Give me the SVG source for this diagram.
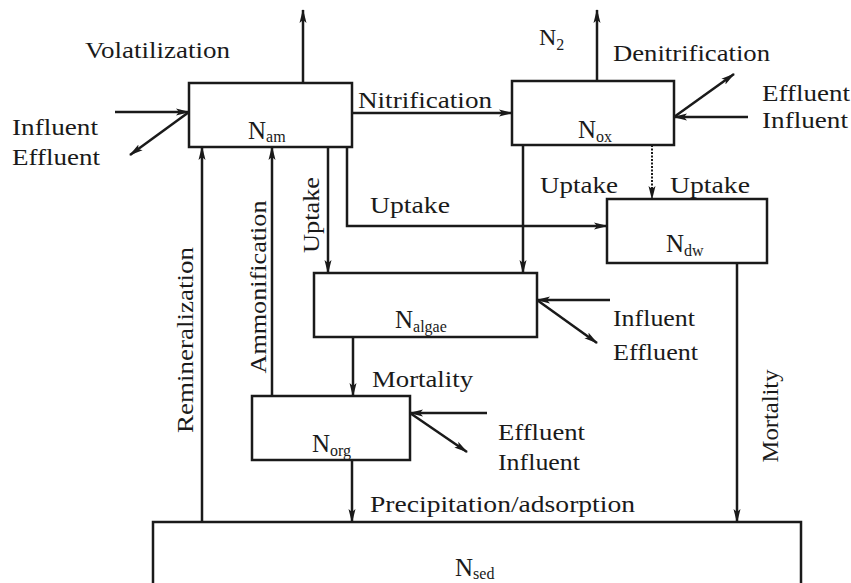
<svg xmlns="http://www.w3.org/2000/svg" width="851" height="583" viewBox="0 0 851 583">
<defs>
<marker id="ah" markerUnits="userSpaceOnUse" markerWidth="14" markerHeight="10" viewBox="0 0 14 10" refX="13" refY="5" orient="auto">
<path d="M0,1.5 L14,5 L0,8.5 L3,5 Z" fill="#1a1a1a"/>
</marker>
</defs>
<style>
.box{fill:none;stroke:#1a1a1a;stroke-width:2.5}
.ar{fill:none;stroke:#1a1a1a;stroke-width:2.5;marker-end:url(#ah)}
.dot{fill:none;stroke:#1a1a1a;stroke-width:2;stroke-dasharray:2 1.5;marker-end:url(#ah)}
.lb{font-size:24px}
.nm{font-size:25px}
.sb{font-size:16px}
</style>
<rect width="851" height="583" fill="#ffffff"/>
<g font-family="'Liberation Serif', 'Times New Roman', serif" fill="#1a1a1a">
<g id="N_am">
<rect class="box" x="189" y="83" width="163" height="64"/>
<text class="nm" x="248" y="139">N<tspan class="sb" dy="3">am</tspan></text>
</g>
<g id="N_ox">
<rect class="box" x="512" y="81" width="162" height="64"/>
<text class="nm" x="578" y="138">N<tspan class="sb" dy="4">ox</tspan></text>
</g>
<g id="N_dw">
<rect class="box" x="607" y="199" width="160" height="64"/>
<text class="nm" x="666" y="252">N<tspan class="sb" dy="4">dw</tspan></text>
</g>
<g id="N_algae">
<rect class="box" x="314" y="273" width="223" height="64"/>
<text class="nm" x="395" y="328">N<tspan class="sb" dy="4">algae</tspan></text>
</g>
<g id="N_org">
<rect class="box" x="252" y="396" width="158" height="64"/>
<text class="nm" x="312" y="452">N<tspan class="sb" dy="4">org</tspan></text>
</g>
<g id="N_sed">
<path class="box" d="M153,590 L153,522 L801,522 L801,590"/>
<text class="nm" x="455" y="576">N<tspan class="sb" dy="3">sed</tspan></text>
</g>

<g id="connectors">
<line class="ar" x1="303" y1="83" x2="303" y2="10"/>
<line class="ar" x1="115" y1="112" x2="189" y2="112"/>
<line class="ar" x1="189" y1="112" x2="130" y2="155"/>
<line class="ar" x1="352" y1="113" x2="512" y2="113"/>
<line class="ar" x1="597" y1="81" x2="597" y2="10"/>
<line class="ar" x1="674" y1="117" x2="734" y2="74"/>
<line class="ar" x1="748" y1="117" x2="674" y2="117"/>
<line class="ar" x1="523" y1="145" x2="523" y2="273"/>
<line class="dot" x1="652" y1="145" x2="652" y2="199"/>
<line class="ar" x1="328" y1="147" x2="328" y2="273"/>
<polyline class="ar" points="347,147 347,226 607,226"/>
<line class="ar" x1="202" y1="522" x2="202" y2="147"/>
<line class="ar" x1="272" y1="396" x2="272" y2="147"/>
<line class="ar" x1="610" y1="300" x2="537" y2="300"/>
<line class="ar" x1="537" y1="300" x2="597" y2="343"/>
<line class="ar" x1="353" y1="337" x2="353" y2="396"/>
<line class="ar" x1="487" y1="413" x2="410" y2="413"/>
<line class="ar" x1="410" y1="413" x2="467" y2="452"/>
<line class="ar" x1="352" y1="460" x2="352" y2="522"/>
<line class="ar" x1="737" y1="263" x2="737" y2="522"/>
</g>

<g id="labels">
<text class="lb" x="85" y="58" textLength="145" lengthAdjust="spacingAndGlyphs">Volatilization</text>
<text class="lb" x="12" y="135" textLength="86" lengthAdjust="spacingAndGlyphs">Influent</text>
<text class="lb" x="12" y="165" textLength="88" lengthAdjust="spacingAndGlyphs">Effluent</text>
<text class="lb" x="358" y="108" textLength="134" lengthAdjust="spacingAndGlyphs">Nitrification</text>
<text class="lb" x="539" y="45">N<tspan class="sb" dy="5">2</tspan></text>
<text class="lb" x="613" y="61" textLength="157" lengthAdjust="spacingAndGlyphs">Denitrification</text>
<text class="lb" x="762" y="101" textLength="88" lengthAdjust="spacingAndGlyphs">Effluent</text>
<text class="lb" x="762" y="128" textLength="86" lengthAdjust="spacingAndGlyphs">Influent</text>
<text class="lb" x="540" y="193" textLength="78" lengthAdjust="spacingAndGlyphs">Uptake</text>
<text class="lb" x="670" y="193" textLength="80" lengthAdjust="spacingAndGlyphs">Uptake</text>
<text class="lb" x="370" y="213" textLength="80" lengthAdjust="spacingAndGlyphs">Uptake</text>
<text class="lb" transform="translate(319,215) rotate(-90)" text-anchor="middle" textLength="76" lengthAdjust="spacingAndGlyphs">Uptake</text>
<text class="lb" transform="translate(266,287) rotate(-90)" text-anchor="middle" textLength="173" lengthAdjust="spacingAndGlyphs">Ammonification</text>
<text class="lb" transform="translate(193,340) rotate(-90)" text-anchor="middle" textLength="186" lengthAdjust="spacingAndGlyphs">Remineralization</text>
<text class="lb" transform="translate(778,416) rotate(-90)" text-anchor="middle" textLength="93" lengthAdjust="spacingAndGlyphs">Mortality</text>
<text class="lb" x="613" y="326" textLength="82" lengthAdjust="spacingAndGlyphs">Influent</text>
<text class="lb" x="613" y="360" textLength="85" lengthAdjust="spacingAndGlyphs">Effluent</text>
<text class="lb" x="372" y="387" textLength="101" lengthAdjust="spacingAndGlyphs">Mortality</text>
<text class="lb" x="498" y="440" textLength="87" lengthAdjust="spacingAndGlyphs">Effluent</text>
<text class="lb" x="498" y="470" textLength="82" lengthAdjust="spacingAndGlyphs">Influent</text>
<text class="lb" x="370" y="512" textLength="265" lengthAdjust="spacingAndGlyphs">Precipitation/adsorption</text>
</g>
</g>
</svg>
